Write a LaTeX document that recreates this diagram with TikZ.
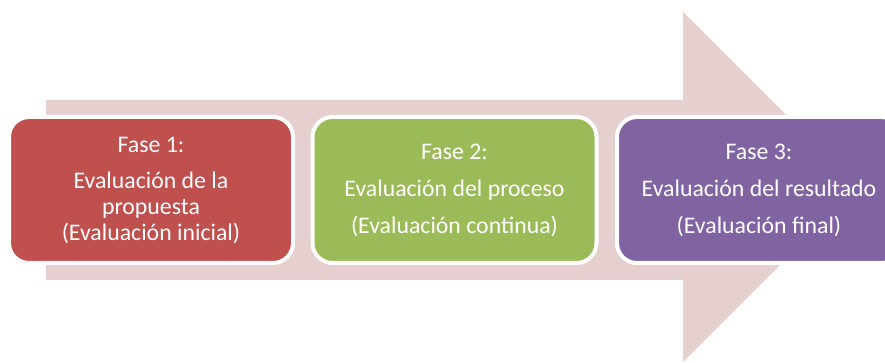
\documentclass[tikz,border=0pt]{standalone}
\usepackage{fontspec}
\setmainfont{Carlito}
\definecolor{arrowpink}{HTML}{E6CFCF}
\definecolor{fred}{HTML}{C0504D}
\definecolor{fgreen}{HTML}{9BBB59}
\definecolor{fpurple}{HTML}{8064A2}
\begin{document}
\begin{tikzpicture}[x=1pt,y=1pt,
  phase/.style={draw=white, line width=4pt, rounded corners=20pt,
    minimum width=284pt, minimum height=146pt, inner sep=0pt,
    text=white, align=center,
    font=\fontsize{23.8}{26}\selectfont}]
\clip (0,0) rectangle (885,363);
\fill[white] (0,0) rectangle (885,363);
\fill[arrowpink] (46,263) -- (683,263) -- (683,351) -- (858,176) -- (683,1) -- (683,83) -- (46,83) -- cycle;
\node[phase, fill=fred] (f1) at (151,173) {Fase 1:\\[10pt]Evaluación de la\\propuesta\\(Evaluación inicial)};
\node[phase, fill=fgreen] (f2) at (454.5,173) {Fase 2:\\[11pt]Evaluación del proceso\\[11pt](Evaluación continua)};
\node[phase, fill=fpurple] (f3) at (759,173) {Fase 3:\\[11pt]Evaluación del resultado\\[11pt](Evaluación final)};
\end{tikzpicture}
\end{document}
